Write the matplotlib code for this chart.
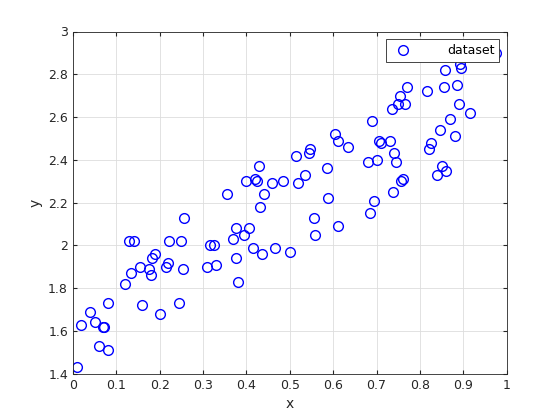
import matplotlib
matplotlib.use('Agg')
import matplotlib.pyplot as plt

# points
x = [0.01, 0.02, 0.04, 0.05, 0.06, 0.07, 0.072, 0.08, 0.082,
     0.12, 0.13, 0.135, 0.14, 0.155, 0.16, 0.175, 0.18, 0.182, 0.19, 0.2, 0.215, 0.22, 0.222, 0.245, 0.25, 0.255, 0.257,
     0.31, 0.315, 0.325, 0.33, 0.355, 0.37, 0.375, 0.377, 0.38, 0.395, 0.4, 0.405, 0.415, 0.42, 0.425, 0.43, 0.432,
     0.435, 0.44, 0.46, 0.465, 0.485, 0.5, 0.515, 0.52, 0.535, 0.545, 0.547, 0.555, 0.557, 0.585, 0.587, 0.605,
     0.61, 0.612, 0.635,
     0.68, 0.685, 0.69, 0.695, 0.7, 0.705, 0.71, 0.73, 0.735, 0.737, 0.74, 0.745, 0.75, 0.755, 0.757, 0.76, 0.765, 0.77,
     0.815, 0.82, 0.825, 0.84, 0.845, 0.85, 0.855, 0.857, 0.86, 0.87, 0.88, 0.885, 0.89, 0.892, 0.895, 0.915, 0.975]
y = [1.43, 1.63, 1.69, 1.64, 1.53, 1.62, 1.62, 1.73, 1.51,
     1.82, 2.02, 1.87, 2.02, 1.9, 1.72, 1.89, 1.86, 1.94, 1.96, 1.68, 1.9, 1.92, 2.02, 1.73, 2.02, 1.89, 2.13,
     1.9, 2.0, 2.0, 1.91, 2.24, 2.03, 1.94, 2.08, 1.83, 2.05, 2.3, 2.08, 1.99, 2.31, 2.3, 2.37, 2.18,
     1.96, 2.24, 2.29, 1.99, 2.3, 1.97, 2.42, 2.29, 2.33, 2.43, 2.45, 2.13, 2.05, 2.36, 2.22, 2.52,
     2.49, 2.09, 2.46,
     2.39, 2.15, 2.58, 2.21, 2.4, 2.49, 2.48, 2.49, 2.64, 2.25, 2.43, 2.39, 2.66, 2.7, 2.3, 2.31, 2.66, 2.74,
     2.72, 2.45, 2.48, 2.33, 2.54, 2.37, 2.74, 2.82, 2.35, 2.59, 2.51, 2.75, 2.66, 2.85, 2.83, 2.62, 2.9]

fig = plt.figure(figsize=(5.6, 4.2), dpi=100)
ax = fig.add_axes([0.13, 0.11, 0.775, 0.815])
ax.plot(x, y, 'o', mfc='none', mec='blue', ms=7, mew=1, label='dataset')
ax.set_xlim(0, 1)
ax.set_ylim(1.4, 3)
ax.set_xticks([i / 10 for i in range(11)])
ax.set_xticklabels(['0', '0.1', '0.2', '0.3', '0.4', '0.5', '0.6', '0.7', '0.8', '0.9', '1'])
ax.set_yticks([1.4 + 0.2 * i for i in range(9)])
ax.set_yticklabels(['1.4', '1.6', '1.8', '2', '2.2', '2.4', '2.6', '2.8', '3'])
ax.grid(True, color='#dddddd', lw=0.6)
ax.tick_params(direction='in', labelsize=9, colors='#262626', top=True, right=True, length=3)
for s in ax.spines.values():
    s.set_color('#262626')
    s.set_linewidth(0.6)
ax.set_xlabel('x', fontsize=10, color='#262626')
ax.set_ylabel('y', fontsize=10, color='#262626')
leg = ax.legend(loc='upper right', fancybox=False, framealpha=1, edgecolor='#262626',
                fontsize=9, borderaxespad=0.6, handletextpad=2.5)
leg.get_frame().set_linewidth(0.6)
fig.savefig('out.png', dpi=100)
